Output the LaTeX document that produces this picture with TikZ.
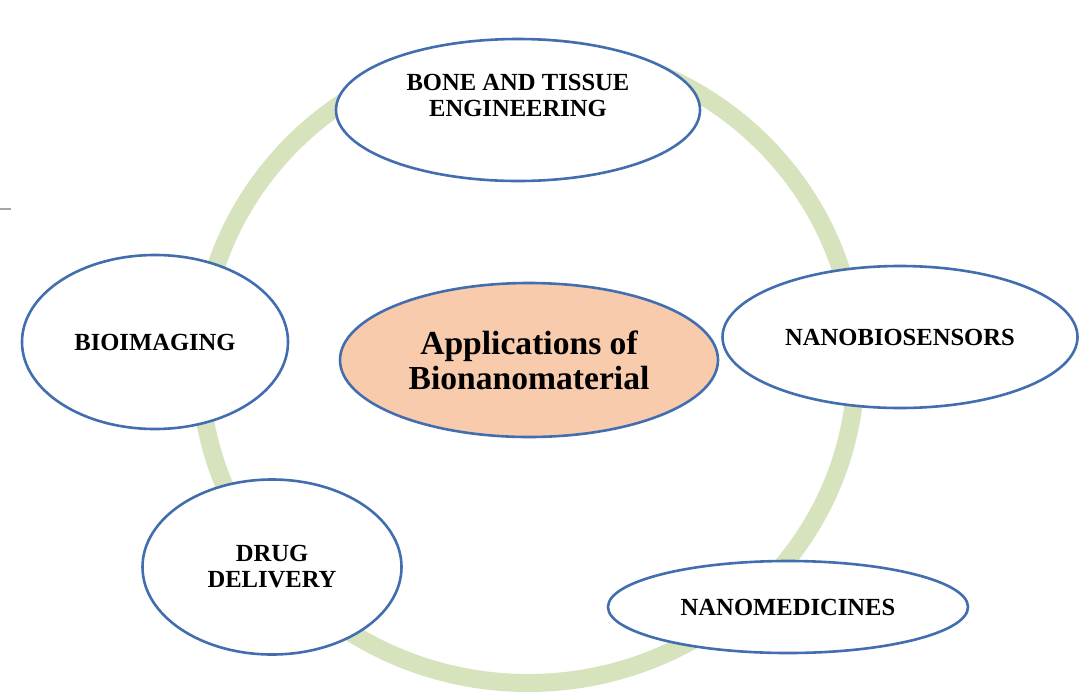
\documentclass[tikz,border=0pt]{standalone}
\usepackage{fontspec}
\setmainfont{Liberation Serif}
\usetikzlibrary{shapes.geometric}
\definecolor{ringgreen}{RGB}{214,227,188}
\definecolor{edgeblue}{RGB}{66,110,176}
\definecolor{peach}{RGB}{248,203,173}
\tikzset{
  appbox/.style={ellipse, draw=edgeblue, line width=2.6pt, fill=white, inner sep=0pt,
    align=center, font=\fontsize{24.6}{26}\selectfont\bfseries},
  apptext/.style={inner sep=0pt, align=center, font=\fontsize{24.6}{26}\selectfont\bfseries},
  corebox/.style={ellipse, draw=edgeblue, line width=2.6pt, fill=peach, inner sep=0pt,
    align=center, font=\fontsize{33.6}{35}\selectfont\bfseries},
  ring/.style={draw=ringgreen, line width=18pt}
}
\begin{document}
\begin{tikzpicture}[x=1pt,y=-1pt]
\useasboundingbox[fill=white] (0,0) rectangle (1083,691);
% background ring
\draw[ring] (528,365) ellipse [x radius=328pt, y radius=318pt];
% small stray mark at left
\draw[gray!70, line width=2pt] (0,209) -- (11,209);
% nodes
\node[corebox, minimum width=378pt, minimum height=154pt] (core) at (529,360) {Applications of\\Bionanomaterial};
\node[appbox, minimum width=364pt, minimum height=142pt] (bone) at (518,110) {};
\node[apptext] (bonetext) at ([yshift=15pt]bone.center) {BONE AND TISSUE\\ENGINEERING};
\node[appbox, minimum width=266pt, minimum height=174pt] (bio) at (155,342) {BIOIMAGING};
\node[appbox, minimum width=355pt, minimum height=142pt] (sens) at (900,337) {NANOBIOSENSORS};
\node[appbox, minimum width=259pt, minimum height=175pt] (drug) at (272,567) {DRUG\\DELIVERY};
\node[appbox, minimum width=360pt, minimum height=92pt] (med) at (788,607) {NANOMEDICINES};
\end{tikzpicture}
\end{document}
